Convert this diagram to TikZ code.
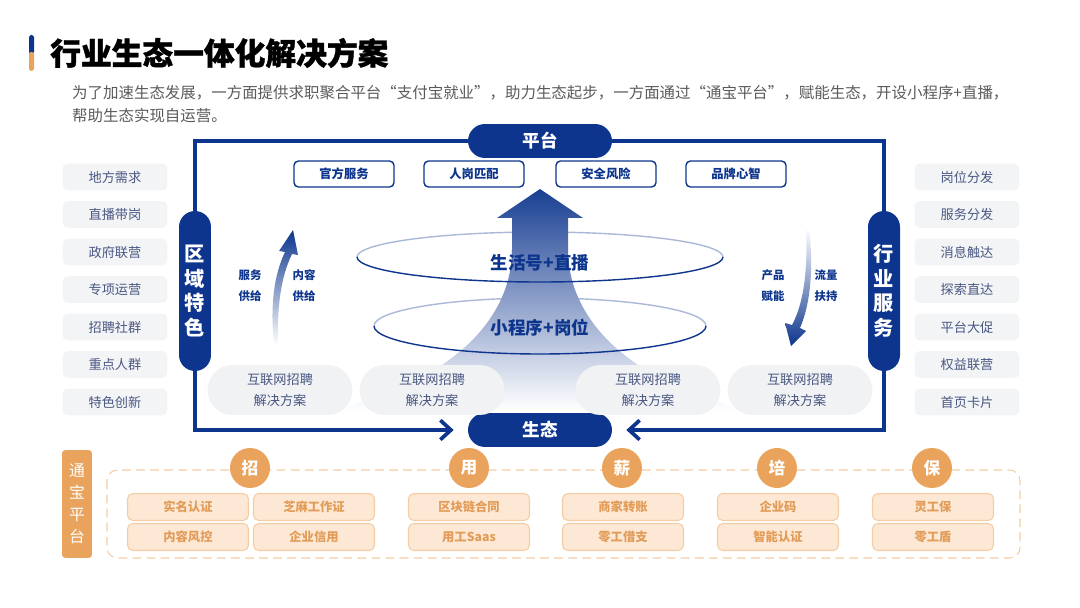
\documentclass[tikz,border=0pt]{standalone}
\usepackage{fontspec}
\setmainfont{Noto Sans CJK SC}
\usetikzlibrary{arrows.meta}
\definecolor{navy}{HTML}{0D358D}
\definecolor{listtext}{HTML}{4A5782}
\definecolor{listbg}{HTML}{F3F4F6}
\definecolor{blobbg}{HTML}{F1F2F4}
\definecolor{tborange}{HTML}{E9A35D}
\definecolor{tbfill}{HTML}{FCE8D5}
\definecolor{tbline}{HTML}{F3CDA5}
\definecolor{tbtext}{HTML}{E29C58}
\definecolor{paragray}{HTML}{5A5A5A}
\tikzset{
	pill/.style={fill=navy, text=white, font=\bfseries\fontsize{10}{12}\selectfont,
			rounded corners=0.34cm, minimum width=2.88cm, minimum height=0.68cm},
	sidepill/.style={fill=navy, text=white, font=\bfseries\fontsize{11.5}{14}\selectfont,
			rounded corners=0.32cm, minimum width=0.64cm, minimum height=3.2cm,
			align=center, inner sep=0pt},
	topbox/.style={draw=navy, line width=0.8pt, fill=white, text=navy,
			font=\bfseries\fontsize{7}{8}\selectfont, rounded corners=2.5pt,
			minimum width=2cm, minimum height=0.52cm},
	listbox/.style={fill=listbg, text=listtext, font=\fontsize{7.5}{9}\selectfont,
			rounded corners=3pt, minimum width=2.1cm, minimum height=0.54cm},
	blob/.style={fill=blobbg, text=listtext, font=\fontsize{7.5}{12.5}\selectfont,
			rounded corners=0.5cm, minimum width=2.9cm, minimum height=1cm, align=center},
	sidelabel/.style={text=navy, font=\bfseries\fontsize{6.5}{12}\selectfont, align=center},
	frame/.style={navy, line width=2.1pt},
	barb/.style={-{Straight Barb[length=6pt, width=11pt, line width=2.1pt]}, shorten >=0.28cm},
	circ/.style={circle, fill=tborange, text=white, minimum size=0.8cm, inner sep=0pt,
			font=\bfseries\fontsize{9.5}{11}\selectfont},
	tbbox/.style={fill=tbfill, draw=tbline, line width=0.6pt, text=tbtext,
			font=\bfseries\fontsize{7}{8}\selectfont, rounded corners=3pt,
			minimum width=2.42cm, minimum height=0.54cm},
	tongbao/.style={fill=tborange, text=white, font=\fontsize{9}{12.5}\selectfont,
			rounded corners=2pt, minimum width=0.6cm, minimum height=2.16cm,
			align=center, inner sep=0pt}
}

\begin{document}
\begin{tikzpicture}[x=0.02cm, y=-0.02cm]
	\useasboundingbox (0,0) rectangle (1080,608);

	% title and text
	\fill[navy, rounded corners=1pt] (29,35) rectangle (34,54);
	\fill[tborange, rounded corners=1pt] (29,52) rectangle (34,71);
	\node[anchor=west, font=\bfseries\fontsize{17.5}{20}\selectfont\addfontfeatures{FakeBold=1.2}] (title) at (44,53) {行业生态一体化解决方案};
	\node[anchor=west, text=paragray, font=\fontsize{8.8}{10}\selectfont] (para1) at (66,93)
		{为了加速生态发展，一方面提供求职聚合平台“支付宝就业”，助力生态起步，一方面通过“通宝平台”，赋能生态，开设小程序+直播，};
	\node[anchor=west, text=paragray, font=\fontsize{8.8}{10}\selectfont] (para2) at (66,116) {帮助生态实现自运营。};

	% rings behind the arrow
	\draw[navy!35, line width=0.8pt] (357,257) arc[start angle=180, end angle=360, x radius=183, y radius=25];
	\draw[navy!35, line width=0.8pt] (374,326) arc[start angle=180, end angle=360, x radius=166, y radius=28];

	% big arrow
	\shade[top color=navy!95, middle color=navy!50, bottom color=white]
		(332,410) .. controls (465,378) and (512,310) .. (512,250) -- (512,218) -- (497,218)
		-- (540,189) -- (583,218) -- (568,218) -- (568,250)
		.. controls (568,310) and (615,378) .. (748,410) -- cycle;

	% rings in front
	\draw[navy, line width=0.8pt] (723,257) arc[start angle=0, end angle=180, x radius=183, y radius=25];
	\draw[navy, line width=0.8pt] (706,326) arc[start angle=0, end angle=180, x radius=166, y radius=28];
	\node[text=navy, font=\bfseries\fontsize{10}{12}\selectfont] (live) at (540,263) {生活号+直播};
	\node[text=navy, font=\bfseries\fontsize{10}{12}\selectfont] (mini) at (540,328) {小程序+岗位};

	% side arrows
	\shade[top color=navy, bottom color=white]
		(274,345) .. controls (270,305) and (274,275) .. (285,252) -- (279,251) -- (293,230)
		-- (298,255) -- (292,254) .. controls (281,277) and (277,305) .. (278,345) -- cycle;
	\shade[top color=white, bottom color=navy]
		(809,228) .. controls (814,270) and (810,305) .. (800,328) -- (806,331) -- (791,346)
		-- (785,323) -- (792,325) .. controls (804,303) and (808,268) .. (806,228) -- cycle;
	\node[sidelabel] (fuwu) at (250,286) {服务\\供给};
	\node[sidelabel] (neirong) at (304,286) {内容\\供给};
	\node[sidelabel] (chanpin) at (773,286) {产品\\赋能};
	\node[sidelabel] (liuliang) at (826,286) {流量\\扶持};

	% frame
	\node[pill] (pingtai) at (540,141) {平台};
	\node[sidepill] (quyu) at (195,291) {区\\域\\特\\色};
	\node[sidepill] (hangye) at (884,291) {行\\业\\服\\务};
	\node[pill] (shengtai) at (540,430) {生态};
	\draw[frame] (pingtai.west) -| (quyu.north);
	\draw[frame] (pingtai.east) -| (hangye.north);
	\draw[frame, barb] (quyu.south) |- (shengtai.west);
	\draw[frame, barb] (hangye.south) |- (shengtai.east);

	\node[topbox] (guanfang) at (344,174) {官方服务};
	\node[topbox] (rengang) at (474,174) {人岗匹配};
	\node[topbox] (anquan) at (606,174) {安全风险};
	\node[topbox] (pinpai) at (736,174) {品牌心智};

	\node[blob] (blob1) at (280,390) {互联网招聘\\解决方案};
	\node[blob] (blob2) at (432,390) {互联网招聘\\解决方案};
	\node[blob] (blob3) at (648,390) {互联网招聘\\解决方案};
	\node[blob] (blob4) at (800,390) {互联网招聘\\解决方案};

	% side lists
	\foreach \txt [count=\i] in {地方需求,直播带岗,政府联营,专项运营,招聘社群,重点人群,特色创新}
		\node[listbox] (left\i) at (115,139.5+37.5*\i) {\txt};
	\foreach \txt [count=\i] in {岗位分发,服务分发,消息触达,探索直达,平台大促,权益联营,首页卡片}
		\node[listbox] (right\i) at (967,139.5+37.5*\i) {\txt};

	% tongbao platform
	\node[tongbao] (tongbao) at (77,504) {通\\宝\\平\\台};
	\draw[tbline, dashed, dash pattern=on 5pt off 3pt, line width=0.6pt, rounded corners=6pt]
		(107,470) rectangle (1020,558);
	\node[circ] (zhao) at (250,468) {招};
	\node[circ] (yong) at (469,468) {用};
	\node[circ] (xin) at (622,468) {薪};
	\node[circ] (pei) at (777,468) {培};
	\node[circ] (bao) at (932,468) {保};

	\node[tbbox] (shiming) at (188,507) {实名认证};
	\node[tbbox] (zhima) at (314,507) {芝麻工作证};
	\node[tbbox] (fengkong) at (188,537) {内容风控};
	\node[tbbox] (xinyong) at (314,537) {企业信用};
	\node[tbbox] (qukuai) at (469,507) {区块链合同};
	\node[tbbox] (saas) at (469,537) {用工Saas};
	\node[tbbox] (zhuanzhang) at (623,507) {商家转账};
	\node[tbbox] (jiezhi) at (623,537) {零工借支};
	\node[tbbox] (qiyema) at (778,507) {企业码};
	\node[tbbox] (renzheng) at (778,537) {智能认证};
	\node[tbbox] (linggong) at (933,507) {灵工保};
	\node[tbbox] (lingdun) at (933,537) {零工盾};
\end{tikzpicture}
\end{document}
